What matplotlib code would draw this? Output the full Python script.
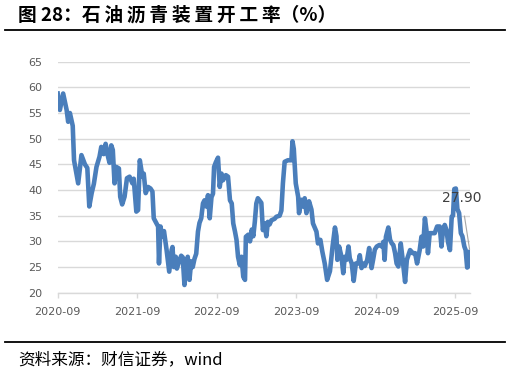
import matplotlib
matplotlib.use('Agg')
import matplotlib.pyplot as plt
import matplotlib.dates as mdates
from matplotlib.lines import Line2D
import pandas as pd

# 石油沥青装置开工率（%），从原图读取的估计值
dates = [
    '2020-09-01', '2020-09-11', '2020-09-26', '2020-10-12', '2020-10-19', '2020-10-27',
    '2020-11-09', '2020-11-15', '2020-12-04', '2020-12-19', '2021-01-04', '2021-01-15',
    '2021-01-24', '2021-02-04', '2021-02-14', '2021-02-26', '2021-03-12', '2021-03-20',
    '2021-03-31', '2021-04-09', '2021-04-20', '2021-04-27', '2021-05-05', '2021-05-12',
    '2021-05-20', '2021-05-28', '2021-06-09', '2021-06-15', '2021-06-24', '2021-07-05',
    '2021-07-16', '2021-07-28', '2021-08-10', '2021-08-16', '2021-08-28', '2021-09-05',
    '2021-09-13', '2021-09-25', '2021-10-01', '2021-10-10', '2021-10-21', '2021-11-01',
    '2021-11-10', '2021-11-16', '2021-11-25', '2021-12-06', '2021-12-10', '2021-12-17',
    '2021-12-24', '2022-01-02', '2022-01-14', '2022-01-26', '2022-02-06', '2022-02-10',
    '2022-02-16', '2022-02-25', '2022-03-02', '2022-03-14', '2022-03-22', '2022-03-29',
    '2022-04-06', '2022-04-14', '2022-04-21', '2022-04-29', '2022-05-07', '2022-05-14',
    '2022-05-22', '2022-05-30', '2022-06-07', '2022-06-14', '2022-06-22', '2022-06-30',
    '2022-07-07', '2022-07-15', '2022-07-23', '2022-07-31', '2022-08-08', '2022-08-15',
    '2022-08-20', '2022-08-28', '2022-09-07', '2022-09-15', '2022-09-23', '2022-09-30',
    '2022-10-13', '2022-10-23', '2022-11-01', '2022-11-09', '2022-11-16', '2022-11-24',
    '2022-12-01', '2022-12-08', '2022-12-16', '2022-12-24', '2023-01-01', '2023-01-09',
    '2023-01-13', '2023-01-24', '2023-02-01', '2023-02-09', '2023-02-16', '2023-02-23',
    '2023-03-02', '2023-03-09', '2023-03-25', '2023-04-01', '2023-04-09', '2023-04-17',
    '2023-04-24', '2023-05-02', '2023-05-10', '2023-05-25', '2023-06-02', '2023-06-17',
    '2023-06-25', '2023-07-02', '2023-07-10', '2023-07-25', '2023-08-10', '2023-08-15',
    '2023-08-21', '2023-08-30', '2023-09-10', '2023-09-14', '2023-09-25', '2023-10-02',
    '2023-10-10', '2023-10-18', '2023-10-30', '2023-11-10', '2023-11-17', '2023-12-03',
    '2023-12-10', '2023-12-21', '2023-12-30', '2024-01-10', '2024-01-21', '2024-02-03',
    '2024-02-15', '2024-02-26', '2024-03-04', '2024-03-08', '2024-03-16', '2024-03-27',
    '2024-04-04', '2024-04-11', '2024-04-19', '2024-04-28', '2024-05-04', '2024-05-13',
    '2024-05-22', '2024-06-01', '2024-06-12', '2024-06-19', '2024-06-27', '2024-07-04',
    '2024-07-12', '2024-07-23', '2024-08-01', '2024-08-12', '2024-08-19', '2024-08-27',
    '2024-09-05', '2024-09-17', '2024-09-28', '2024-10-05', '2024-10-11', '2024-10-17',
    '2024-10-28', '2024-11-05', '2024-11-13', '2024-11-20', '2024-11-28', '2024-12-05',
    '2024-12-13', '2024-12-24', '2025-01-02', '2025-01-13', '2025-01-21', '2025-01-28',
    '2025-02-05', '2025-02-17', '2025-02-28', '2025-03-09', '2025-03-21', '2025-03-29',
    '2025-04-06', '2025-04-14', '2025-04-21', '2025-04-28', '2025-05-06', '2025-05-18',
    '2025-05-29', '2025-06-09', '2025-06-21', '2025-06-29', '2025-07-06', '2025-07-14',
    '2025-07-22', '2025-07-29', '2025-08-07', '2025-08-15', '2025-08-21', '2025-08-27',
    '2025-09-03', '2025-09-10', '2025-09-18', '2025-09-26', '2025-10-03', '2025-10-12',
    '2025-10-18', '2025-10-25', '2025-10-30', '2025-11-07',
]
rate = [
    58.8, 55.6, 58.8, 55.6, 53.3, 55.0,
    52.5, 45.8, 41.3, 46.8, 45.0, 44.3,
    36.8, 39.4, 41.2, 44.5, 46.5, 48.4,
    47.0, 49.0, 46.5, 45.3, 48.7, 47.8,
    41.3, 44.5, 44.2, 38.7, 37.2, 38.7,
    42.3, 42.6, 41.3, 42.2, 35.8, 36.1,
    45.8, 42.6, 43.2, 39.4, 40.6, 40.3,
    39.7, 34.5, 33.8, 32.9, 25.7, 32.9,
    31.0, 32.0, 28.3, 24.1, 28.3, 28.9,
    25.0, 27.0, 24.7, 26.3, 27.2, 26.9,
    21.5, 25.0, 27.0, 22.5, 26.1, 25.0,
    26.6, 27.6, 31.9, 33.6, 34.5, 37.4,
    38.0, 36.8, 39.0, 34.5, 38.6, 39.3,
    44.5, 45.4, 46.3, 40.6, 43.2, 41.9,
    42.9, 42.6, 38.0, 37.4, 33.5, 31.9,
    30.3, 27.0, 25.4, 27.0, 23.1, 22.5,
    30.9, 31.3, 30.0, 32.3, 31.0, 33.8,
    37.4, 38.4, 37.5, 32.2, 33.5, 31.0,
    33.8, 33.3, 34.1, 34.4, 34.8, 35.0,
    36.0, 41.3, 45.5, 45.8, 45.8, 49.5,
    48.0, 41.3, 38.7, 35.5, 38.1, 36.8,
    38.4, 35.5, 37.8, 36.2, 33.5, 31.9,
    29.6, 30.3, 28.0, 25.7, 22.5, 24.2,
    29.0, 32.7, 31.0, 26.4, 29.0, 27.0,
    23.8, 27.0, 26.4, 29.0, 26.7, 25.7,
    22.3, 25.7, 25.7, 27.3, 24.8, 25.7,
    25.2, 26.4, 28.7, 24.8, 26.4, 28.4,
    29.0, 29.3, 29.0, 29.9, 26.4, 30.9,
    32.7, 30.3, 29.6, 29.3, 27.7, 25.7,
    25.1, 29.6, 26.4, 22.1, 26.4, 27.3,
    28.3, 27.7, 27.7, 25.7, 28.3, 30.9,
    29.0, 34.5, 32.2, 27.7, 31.6, 31.6,
    31.6, 32.9, 32.9, 29.0, 32.2, 33.2,
    32.2, 29.9, 28.3, 34.8, 35.0, 40.2,
    40.3, 36.3, 35.5, 31.6, 31.0, 29.0,
    28.3, 24.9, 25.1, 27.9,
]
x_ticks = ['2020-09-01', '2021-09-01', '2022-09-01', '2023-09-01', '2024-09-01', '2025-09-01']
y_ticks = [20, 25, 30, 35, 40, 45, 50, 55, 60, 65]
last_label = '27.90'

df = pd.DataFrame({'date': pd.to_datetime(dates), 'rate': rate})

plt.rcParams['font.family'] = ['DejaVu Sans']
cjk = ['Noto Sans CJK SC', 'DejaVu Sans']

fig = plt.figure(figsize=(5.11, 3.74), dpi=100)
ax = fig.add_axes([57.7 / 511, 1 - 292.7 / 374, (470 - 57.7) / 511, (292.7 - 61.7) / 374])

ax.plot(df['date'], df['rate'], color='#4a7ebb', lw=3.3, solid_joinstyle='round', zorder=3)

ax.set_xlim(pd.Timestamp(x_ticks[0]), df['date'].iloc[-1])
ax.set_ylim(20, 65)
ax.set_yticks(y_ticks)
ax.set_xticks(pd.to_datetime(x_ticks))
ax.xaxis.set_major_formatter(mdates.DateFormatter('%Y-%m'))
ax.grid(axis='y', color='#d9d9d9', lw=1.0)
ax.set_axisbelow(True)
for s in ['left', 'right', 'top']:
    ax.spines[s].set_visible(False)
ax.spines['bottom'].set_color('#d9d9d9')
ax.spines['bottom'].set_linewidth(1.0)
ax.tick_params(axis='y', length=0, pad=11, labelsize=8, labelcolor='#595959')
ax.tick_params(axis='x', length=3.5, width=1.0, color='#d9d9d9', pad=7,
               labelsize=8, labelcolor='#595959')

# 最新值标注
ax.annotate(last_label, xy=(df['date'].iloc[-1], df['rate'].iloc[-1]),
            xytext=(-6, 39), textcoords='offset points', ha='center', va='center',
            fontsize=10, color='#404040',
            arrowprops=dict(arrowstyle='-', color='#a6a6a6', lw=0.8, shrinkA=6, shrinkB=2))

# 标题、分隔线、资料来源
title = '图 28：' + '\u2009'.join('石油沥青装置开工率') + '（%）'
fig.text(18 / 511, 1 - 15 / 374, title, family=cjk,
         fontsize=13.5, fontweight='bold', va='center', ha='left')
fig.add_artist(Line2D([5 / 511, 505 / 511], [1 - 30 / 374] * 2, color='black', lw=1.3))
fig.add_artist(Line2D([5 / 511, 505 / 511], [1 - 342.3 / 374] * 2, color='black', lw=1.3))
fig.text(18 / 511, 1 - 360 / 374, '资料来源：财信证券，wind', family=cjk,
         fontsize=12, style='italic', va='center', ha='left')

fig.savefig('out.png', dpi=100)
